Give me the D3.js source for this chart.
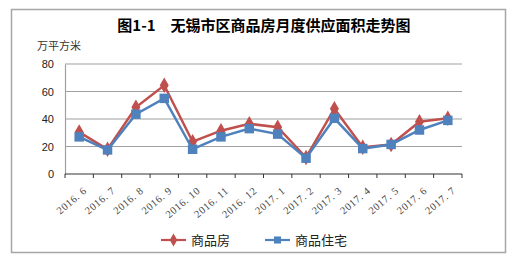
<!DOCTYPE html>
<html>
<head>
<meta charset="utf-8">
<script src="https://cdn.jsdelivr.net/npm/d3@7"></script>
<style>
  body { margin: 0; background: #fff; }
  svg { display: block; }
</style>
</head>
<body>
<svg width="516" height="264"></svg>
<script>
// data
const months = ["2016.6", "2016.7", "2016.8", "2016.9", "2016.10", "2016.11", "2016.12",
                "2017.1", "2017.2", "2017.3", "2017.4", "2017.5", "2017.6", "2017.7"];
const houses = [30.5, 18, 48.5, 64.5, 23.5, 31.5, 36.5, 34, 12, 47.5, 19.5, 21.5, 38, 40.5];
const homes  = [27, 17.5, 43.5, 55, 18, 27, 33, 29, 11.5, 40.5, 18.5, 21.5, 32, 39];
const yTicks = [0, 20, 40, 60, 80];

const red = "#C0504D", blue = "#4F81BD";
const svg = d3.select("svg");

// outer frame
svg.append("rect")
    .attr("x", 11.5).attr("y", 9.5)
    .attr("width", 494).attr("height", 243)
    .attr("fill", "none")
    .attr("stroke", "#a6a6a6")
    .attr("stroke-width", 1.5);

svg.append("text")
    .attr("x", 264).attr("y", 31)
    .attr("text-anchor", "middle")
    .style("font-family", "'Noto Sans CJK SC'")
    .style("font-weight", "bold")
    .style("font-size", "15px")
    .text("图1-1\u3000无锡市区商品房月度供应面积走势图");

svg.append("text")
    .attr("x", 37).attr("y", 50)
    .style("font-family", "'Noto Sans CJK SC'")
    .style("font-size", "11px")
    .attr("fill", "#333")
    .text("万平方米");

const x = d3.scaleBand().domain(months).range([65, 462]);
const y = d3.scaleLinear().domain([0, 80]).range([174, 64]);

// grid lines
svg.append("g")
    .selectAll("line")
    .data(yTicks.filter(d => d > 0))
    .join("line")
    .attr("x1", 65).attr("x2", 462)
    .attr("y1", d => y(d)).attr("y2", d => y(d))
    .attr("stroke", "#a0a0a0")
    .attr("stroke-width", 1.2);

// y axis
const yAxis = svg.append("g")
    .attr("transform", "translate(65,0)")
    .call(d3.axisLeft(y).tickValues(yTicks).tickSize(0).tickPadding(11));
yAxis.select(".domain").attr("stroke", "#a0a0a0").attr("stroke-width", 1.2);
yAxis.selectAll("text")
    .style("font-family", "'Liberation Sans'")
    .style("font-size", "11px")
    .attr("fill", "#222");

// x axis with ticks between categories
const xAxis = svg.append("g").attr("transform", "translate(0,174)");
xAxis.append("line")
    .attr("x1", 65).attr("x2", 462)
    .attr("stroke", "#333").attr("stroke-width", 1.2);
xAxis.selectAll("line.tick")
    .data(months.map(m => x(m)).concat([462]))
    .join("line")
    .attr("class", "tick")
    .attr("x1", d => d).attr("x2", d => d)
    .attr("y1", 0).attr("y2", 4)
    .attr("stroke", "#333");
xAxis.selectAll("text")
    .data(months)
    .join("text")
    .attr("transform", d => `translate(${x(d) + x.bandwidth() / 2 + 6},15) rotate(-40)`)
    .attr("text-anchor", "end")
    .attr("dy", "0.35em")
    .style("font-family", "'Liberation Serif'")
    .style("font-size", "10.5px")
    .style("letter-spacing", "0.6px")
    .attr("fill", "#444")
    .text(d => d.replace(".", ". "));

const cx = d => x(d) + x.bandwidth() / 2;
const line = d3.line().x((d, i) => cx(months[i])).y(d => y(d));

const diamond = d3.symbol().type(d3.symbolDiamond).size(70);
const square = d3.symbol().type(d3.symbolSquare).size(90);

svg.append("path").datum(houses)
    .attr("d", line).attr("fill", "none")
    .attr("stroke", red).attr("stroke-width", 2.5);
svg.append("g").selectAll("path")
    .data(houses)
    .join("path")
    .attr("d", diamond)
    .attr("transform", (d, i) => `translate(${cx(months[i])},${y(d)})`)
    .attr("fill", red);

svg.append("path").datum(homes)
    .attr("d", line).attr("fill", "none")
    .attr("stroke", blue).attr("stroke-width", 2.5);
svg.append("g").selectAll("path")
    .data(homes)
    .join("path")
    .attr("d", square)
    .attr("transform", (d, i) => `translate(${cx(months[i])},${y(d)})`)
    .attr("fill", blue);

// legend
const legend = [
    { name: "商品房", color: red, sym: d3.symbol().type(d3.symbolDiamond).size(50), x: 161 },
    { name: "商品住宅", color: blue, sym: d3.symbol().type(d3.symbolSquare).size(50), x: 265 }
];
const lg = svg.append("g").selectAll("g")
    .data(legend)
    .join("g")
    .attr("transform", d => `translate(${d.x},240)`);
lg.append("line")
    .attr("x1", 0).attr("x2", 25)
    .attr("stroke", d => d.color).attr("stroke-width", 2.2);
lg.append("path")
    .attr("d", d => d.sym())
    .attr("transform", "translate(12.5,0)")
    .attr("fill", d => d.color);
lg.append("text")
    .attr("x", 30).attr("dy", "0.38em")
    .style("font-family", "'Noto Sans CJK SC'")
    .style("font-size", "13px")
    .attr("fill", "#222")
    .text(d => d.name);
</script>
</body>
</html>
